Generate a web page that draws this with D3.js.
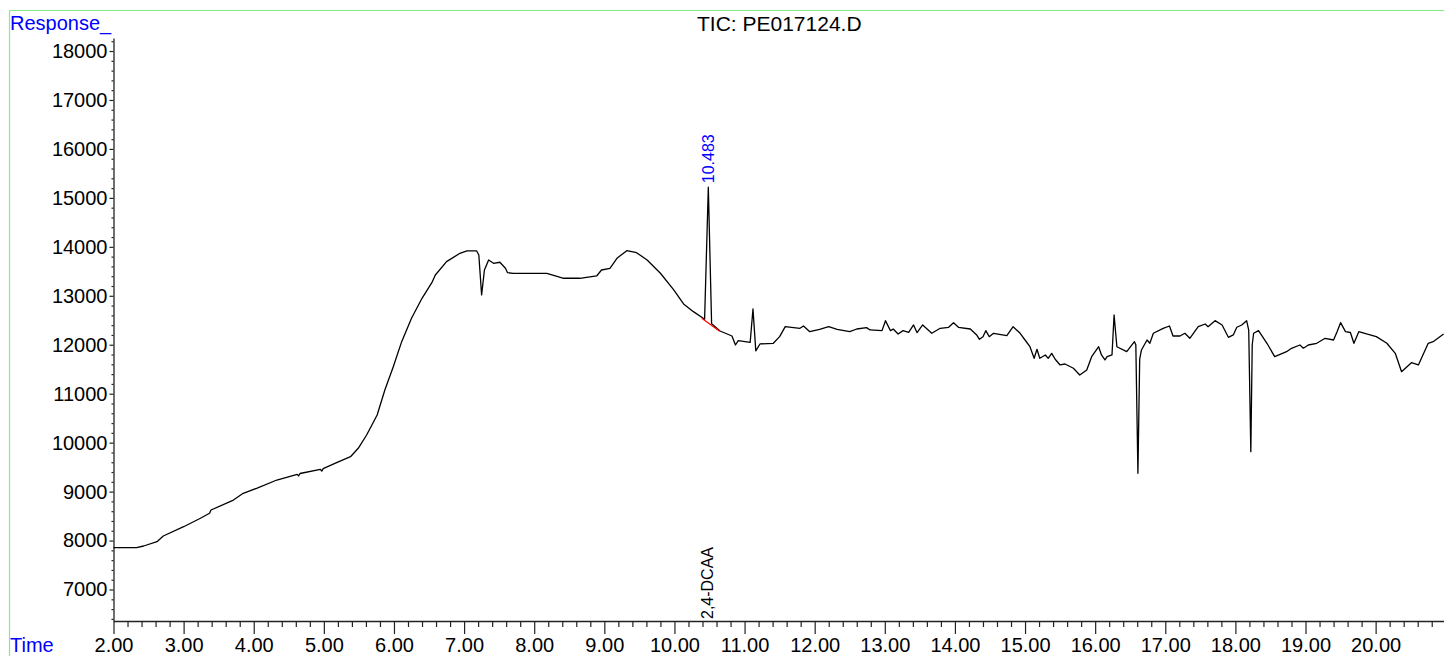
<!DOCTYPE html>
<html>
<head>
<meta charset="utf-8">
<script src="https://cdn.jsdelivr.net/npm/d3@7"></script>
<style>
  html, body { margin: 0; padding: 0; background: #fff; }
  svg { display: block; }
  text { font-family: "Liberation Sans", Arial, sans-serif; }
</style>
</head>
<body>
<svg id="chart" width="1444" height="656"></svg>
<script>
// ---- data ----
const title = "TIC: PE017124.D";
const yAxisLabel = "Response_";
const xAxisLabel = "Time";

const times = [
  2.00, 2.33, 2.43, 2.62, 2.71, 3.00, 3.24, 3.37, 3.39, 3.71, 3.85, 4.04, 4.33, 4.62, 4.64, 4.66,
  4.95, 4.97, 4.99, 5.19, 5.38, 5.49, 5.61, 5.76, 5.87, 5.99, 6.11, 6.25, 6.40, 6.54, 6.59, 6.75,
  6.94, 7.04, 7.18, 7.21, 7.25, 7.29, 7.35, 7.42, 7.51, 7.59, 7.62, 7.70, 8.18, 8.42, 8.65, 8.89,
  8.96, 9.08, 9.18, 9.32, 9.46, 9.61, 9.80, 9.99, 10.13, 10.27, 10.41, 10.43, 10.483, 10.53, 10.65,
  10.82, 10.87, 10.91, 11.08, 11.12, 11.16, 11.22, 11.41, 11.50, 11.58, 11.79, 11.84, 11.93, 12.07,
  12.20, 12.32, 12.50, 12.60, 12.74, 12.79, 12.96, 13.01, 13.08, 13.12, 13.19, 13.26, 13.34, 13.41,
  13.46, 13.54, 13.67, 13.79, 13.91, 13.98, 14.05, 14.22, 14.31, 14.35, 14.40, 14.44, 14.49, 14.55,
  14.74, 14.83, 14.93, 15.00, 15.07, 15.13, 15.17, 15.21, 15.29, 15.33, 15.38, 15.43, 15.50, 15.57,
  15.69, 15.78, 15.88, 15.95, 16.05, 16.09, 16.14, 16.17, 16.24, 16.27, 16.31, 16.45, 16.56, 16.58,
  16.61, 16.635, 16.66, 16.74, 16.78, 16.83, 16.97, 17.06, 17.11, 17.21, 17.28, 17.35, 17.47, 17.57,
  17.61, 17.71, 17.81, 17.90, 17.97, 18.02, 18.09, 18.16, 18.19, 18.22, 18.24, 18.26, 18.33, 18.45,
  18.56, 18.73, 18.80, 18.92, 18.97, 19.04, 19.16, 19.28, 19.40, 19.45, 19.50, 19.57, 19.64, 19.69,
  19.76, 19.87, 20.01, 20.16, 20.28, 20.37, 20.51, 20.61, 20.75, 20.82, 20.97
];
const responses = [
  7854, 7854, 7889, 7977, 8093, 8283, 8455, 8557, 8624, 8828, 8965, 9067, 9237, 9353, 9320, 9370,
  9456, 9420, 9470, 9599, 9713, 9885, 10156, 10565, 11076, 11552, 12063, 12541, 12949, 13268, 13425, 13697,
  13868, 13916, 13916, 13834, 13017, 13527, 13732, 13664, 13685, 13562, 13472, 13460, 13460, 13358, 13358, 13405,
  13527, 13562, 13766, 13922, 13881, 13732, 13460, 13119, 12833, 12676, 12541, 12520, 15217, 12430, 12281,
  12179, 11995, 12083, 12050, 12731, 11876, 12016, 12030, 12165, 12369, 12336, 12383, 12267, 12316,
  12369, 12316, 12267, 12322, 12349, 12302, 12288, 12492, 12288, 12320, 12220, 12288, 12254, 12404,
  12247, 12404, 12234, 12336, 12357, 12451, 12357, 12322, 12200, 12111, 12165, 12288, 12165, 12234,
  12186, 12369, 12234, 12097, 11960, 11723, 11907, 11723, 11791, 11723, 11825, 11703, 11587, 11607,
  11519, 11382, 11484, 11756, 11960, 11791, 11689, 11756, 11791, 12608, 11960, 11858, 12063, 12000,
  9374, 11700, 11893, 12097, 12030, 12234, 12336, 12383, 12179, 12179, 12234, 12132, 12369, 12424,
  12369, 12492, 12404, 12152, 12200, 12357, 12404, 12492, 12300, 9815, 12000, 12234, 12288, 12030,
  11756, 11858, 11927, 11995, 11930, 11995, 12030, 12132, 12097, 12267, 12451, 12267, 12250, 12030,
  12267, 12220, 12165, 12030, 11825, 11450, 11634, 11587, 12030, 12063, 12220
];

// integration baseline of the labelled peak
const baselineTimes = [10.39, 10.64];
const baselineResponses = [12541, 12281];

// peak annotation
const peakTime = 10.483;
const peakResponse = 15217;
const peakLabel = "10.483";
const compoundLabel = "2,4-DCAA";

// axis ticks
const xMajorTicks = [2,3,4,5,6,7,8,9,10,11,12,13,14,15,16,17,18,19,20];
const yMajorTicks = [7000,8000,9000,10000,11000,12000,13000,14000,15000,16000,17000,18000];

// ---- drawing ----
const svg = d3.select("#chart");
const W = 1444, H = 656;

const x = d3.scaleLinear().domain([2, 20.975]).range([113.5, 1444]);
const y = d3.scaleLinear().domain([6357, 18266]).range([621, 38]);

const xMinorTicks = d3.range(2, 20.9, 0.2).map(v => +v.toFixed(2)).filter(v => Math.abs(v - Math.round(v)) > 1e-6);
const yMinorTicks = d3.range(6400, 18300, 200).filter(v => v % 1000 !== 0);

// green frame
svg.append("line").attr("x1", 9.5).attr("x2", 9.5).attr("y1", 10.5).attr("y2", H)
  .attr("stroke", "#80f080").attr("stroke-width", 1.2);
svg.append("line").attr("x1", 9.5).attr("x2", W).attr("y1", 10.5).attr("y2", 10.5)
  .attr("stroke", "#80f080").attr("stroke-width", 1.2);

// x axis
const gx = svg.append("g").attr("transform", `translate(0,621)`);
gx.call(d3.axisBottom(x).tickValues(xMajorTicks).tickSize(13).tickSizeOuter(0).tickPadding(4)
  .tickFormat(d3.format(".2f")));
const gxm = svg.append("g").attr("transform", `translate(0,621)`);
gxm.call(d3.axisBottom(x).tickValues(xMinorTicks).tickSize(6).tickSizeOuter(0).tickFormat(""));
gxm.select(".domain").remove();

// y axis
const gy = svg.append("g").attr("transform", `translate(113.5,0)`);
gy.call(d3.axisLeft(y).tickValues(yMajorTicks).tickSize(4).tickSizeOuter(0).tickPadding(2)
  .tickFormat(d3.format("d")));
const gym = svg.append("g").attr("transform", `translate(113.5,0)`);
gym.call(d3.axisLeft(y).tickValues(yMinorTicks).tickSize(2).tickSizeOuter(0).tickFormat(""));
gym.select(".domain").remove();

svg.selectAll(".tick text").attr("font-size", 20).attr("fill", "#000")
  .attr("font-family", '"Liberation Sans", Arial, sans-serif');
svg.selectAll(".domain").attr("stroke", "#222").attr("stroke-width", 1.3);
svg.selectAll(".tick line").attr("stroke", "#222").attr("stroke-width", 1.2);

// axis labels and title
svg.append("text").attr("x", 10).attr("y", 30).attr("font-size", 20).attr("fill", "#0000ff")
  .text(yAxisLabel);
svg.append("text").attr("x", 10).attr("y", 652).attr("font-size", 20).attr("fill", "#0000ff")
  .text(xAxisLabel);
svg.append("text").attr("x", 697).attr("y", 31).attr("font-size", 21).attr("fill", "#000")
  .text(title);

// chromatogram trace
const data = times.map((t, i) => ({ t, r: responses[i] }));
const line = d3.line().x(d => x(d.t)).y(d => y(d.r));
svg.append("path").datum(data).attr("d", line)
  .attr("fill", "none").attr("stroke", "#000").attr("stroke-width", 1.3).attr("stroke-linejoin", "round");

// peak baseline (red)
const bl = baselineTimes.map((t, i) => ({ t, r: baselineResponses[i] }));
svg.append("path").datum(bl).attr("d", line)
  .attr("fill", "none").attr("stroke", "#ff0000").attr("stroke-width", 1.3);

// peak label
const px = x(peakTime);
svg.append("text")
  .attr("transform", `translate(${px + 6},${y(peakResponse) - 4}) rotate(-90)`)
  .attr("font-size", 16).attr("fill", "#0000ff").text(peakLabel);

// compound label
svg.append("text")
  .attr("transform", `translate(${px + 5},619) rotate(-90)`)
  .attr("font-size", 16).attr("fill", "#000").text(compoundLabel);
</script>
</body>
</html>
